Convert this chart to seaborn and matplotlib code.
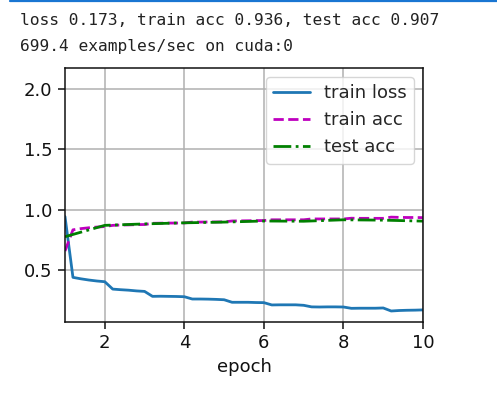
import numpy as np
import pandas as pd
import matplotlib
matplotlib.use("Agg")
import matplotlib.pyplot as plt
from matplotlib.lines import Line2D
import seaborn as sns

# ---- data ----
# train loss / train acc are logged 5 times per epoch, test acc once per epoch
EPOCH_STEPS = [1.0,
               1.2, 1.4, 1.6, 1.8, 2.0,
               2.2, 2.4, 2.6, 2.8, 3.0,
               3.2, 3.4, 3.6, 3.8, 4.0,
               4.2, 4.4, 4.6, 4.8, 5.0,
               5.2, 5.4, 5.6, 5.8, 6.0,
               6.2, 6.4, 6.6, 6.8, 7.0,
               7.2, 7.4, 7.6, 7.8, 8.0,
               8.2, 8.4, 8.6, 8.8, 9.0,
               9.2, 9.4, 9.6, 9.8, 10.0]
TRAIN_LOSS = [0.945,
              0.442, 0.430, 0.420, 0.412, 0.406,
              0.345, 0.340, 0.336, 0.330, 0.326,
              0.285, 0.286, 0.285, 0.284, 0.282,
              0.263, 0.263, 0.262, 0.260, 0.257,
              0.236, 0.236, 0.236, 0.234, 0.233,
              0.214, 0.215, 0.215, 0.215, 0.211,
              0.198, 0.197, 0.198, 0.198, 0.197,
              0.186, 0.187, 0.187, 0.187, 0.189,
              0.164, 0.168, 0.170, 0.171, 0.173]
TRAIN_ACC = [0.660,
             0.835, 0.845, 0.852, 0.858, 0.862,
             0.872, 0.875, 0.876, 0.878, 0.879,
             0.889, 0.890, 0.891, 0.891, 0.892,
             0.899, 0.899, 0.900, 0.900, 0.901,
             0.908, 0.909, 0.910, 0.911, 0.912,
             0.918, 0.918, 0.918, 0.918, 0.918,
             0.925, 0.925, 0.925, 0.925, 0.925,
             0.931, 0.930, 0.930, 0.930, 0.930,
             0.940, 0.938, 0.937, 0.937, 0.936]
EPOCHS = [1, 2, 3, 4, 5, 6, 7, 8, 9, 10]
TEST_ACC = [0.778, 0.872, 0.884, 0.893, 0.899, 0.908, 0.906, 0.918, 0.915, 0.907]

HEADER = ["loss 0.173, train acc 0.936, test acc 0.907",
          "699.4 examples/sec on cuda:0"]

FS = 13  # tick / label / legend font size

# ---- style ----
sns.set_theme(style="ticks", color_codes=False)
plt.rcParams.update({
    "font.family": ["DejaVu Sans"],
    "font.size": FS,
    "axes.linewidth": 1.1,
    "axes.edgecolor": "#111111",
    "xtick.labelsize": FS,
    "ytick.labelsize": FS,
    "xtick.major.width": 1.1,
    "ytick.major.width": 1.1,
    "xtick.major.size": 5,
    "ytick.major.size": 5,
    "xtick.major.pad": 4,
    "ytick.major.pad": 4,
    "xtick.color": "#111111",
    "ytick.color": "#111111",
    "axes.labelcolor": "#111111",
})

fig = plt.figure(figsize=(4.97, 3.93), dpi=100)
ax = fig.add_axes([65 / 497, 1 - 322 / 393, 358 / 497, 254 / 393])

df_train = pd.DataFrame({"epoch": EPOCH_STEPS, "train loss": TRAIN_LOSS, "train acc": TRAIN_ACC})
df_test = pd.DataFrame({"epoch": EPOCHS, "test acc": TEST_ACC})

sns.lineplot(data=df_train, x="epoch", y="train loss", ax=ax, color="#1f77b4",
             linewidth=2.0, label="train loss")
sns.lineplot(data=df_train, x="epoch", y="train acc", ax=ax, color="#bf00bf",
             linewidth=2.0, linestyle="--", label="train acc")
sns.lineplot(data=df_test, x="epoch", y="test acc", ax=ax, color="#008000",
             linewidth=2.0, linestyle="-.", label="test acc")

ax.set_xlim(1, 10)
ax.set_ylim(0.073, 2.173)
ax.set_xticks([2, 4, 6, 8, 10])
ax.set_yticks([0.5, 1.0, 1.5, 2.0])
ax.set_xlabel("epoch", fontsize=FS, labelpad=4)
ax.set_ylabel("")
ax.grid(True, color="#b0b0b0", linewidth=1.1)
ax.set_axisbelow(True)
for s in ax.spines.values():
    s.set_visible(True)

leg = ax.legend(loc="upper right", fontsize=FS, frameon=True, framealpha=0.8,
                edgecolor="#cccccc", fancybox=True, handlelength=2.0)
leg.get_frame().set_linewidth(1.0)

# notebook output text above the chart
fig.text(20 / 497, 1 - 25 / 393, HEADER[0], family="DejaVu Sans Mono", fontsize=11.7,
         color="#222222", va="baseline", ha="left")
fig.text(20 / 497, 1 - 51 / 393, HEADER[1], family="DejaVu Sans Mono", fontsize=11.7,
         color="#222222", va="baseline", ha="left")

# blue cell border at the very top
fig.add_artist(Line2D([10 / 497, 1.0], [1 - 1 / 393, 1 - 1 / 393], color="#1976d2",
                      linewidth=1.6, transform=fig.transFigure))

fig.savefig("out.png", dpi=100)
